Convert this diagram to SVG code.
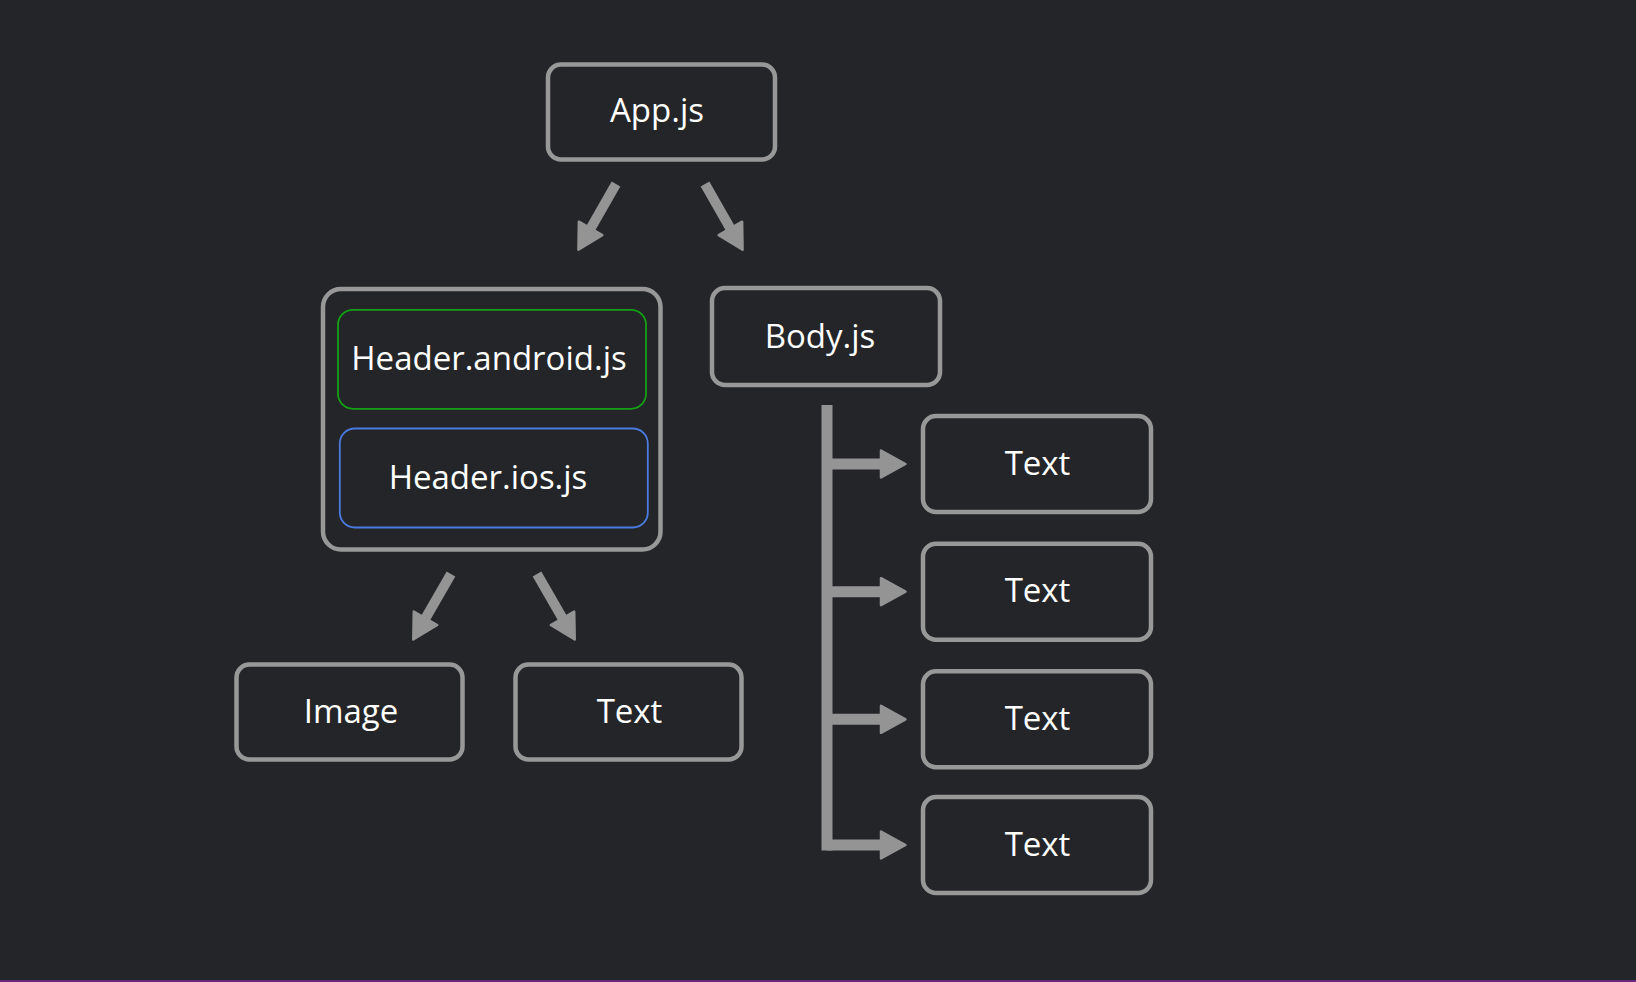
<svg xmlns="http://www.w3.org/2000/svg" width="1636" height="982" viewBox="0 0 1636 982">
  <style>
    .box { fill: #242528; stroke: #989898; stroke-width: 4.5; }
    .lbl { fill: #ffffff; font-family: "Open Sans", "Noto Sans", "Liberation Sans", sans-serif; font-size: 33px; text-anchor: middle; }
    .conn { stroke: #949494; stroke-width: 10; fill: none; stroke-linecap: butt; }
  </style>
  <defs>
    <marker id="ah" viewBox="0 0 26 30" refX="0" refY="15" markerWidth="26" markerHeight="30" markerUnits="userSpaceOnUse" orient="auto" overflow="visible">
      <path d="M0,1.5 L24.5,15 L0,28.5 Z" fill="#949494" stroke="#949494" stroke-width="2.5" stroke-linejoin="round"/>
    </marker>
  </defs>
  <rect x="0" y="0" width="1636" height="982" fill="#242528"/>
  <rect x="0" y="980" width="1636" height="2" fill="#652a80"/>

  <g id="connectors">
    <line class="conn" x1="616" y1="184" x2="590.6" y2="228.4" marker-end="url(#ah)"/>
    <line class="conn" x1="705" y1="184" x2="730.4" y2="228.4" marker-end="url(#ah)"/>
    <line class="conn" x1="451" y1="574" x2="425.5" y2="618.3" marker-end="url(#ah)"/>
    <line class="conn" x1="537" y1="574" x2="562.5" y2="618.3" marker-end="url(#ah)"/>
    <line class="conn" x1="827" y1="405" x2="827" y2="850.5" style="stroke-width:11"/>
    <line class="conn" x1="827" y1="464" x2="881" y2="464" style="stroke-width:11" marker-end="url(#ah)"/>
    <line class="conn" x1="827" y1="591.7" x2="881" y2="591.7" style="stroke-width:11" marker-end="url(#ah)"/>
    <line class="conn" x1="827" y1="719.3" x2="881" y2="719.3" style="stroke-width:11" marker-end="url(#ah)"/>
    <line class="conn" x1="827" y1="845" x2="881" y2="845" style="stroke-width:11" marker-end="url(#ah)"/>
  </g>

  <g id="app">
    <rect class="box" x="548" y="64.5" width="227" height="95" rx="13"/>
    <text class="lbl" x="657" y="122">App.js</text>
  </g>

  <g id="header">
    <rect class="box" x="323" y="289" width="337.5" height="260.5" rx="18"/>
    <g id="header-android">
      <rect x="338" y="309.8" width="308" height="99" rx="15" fill="none" stroke="#14a014" stroke-width="1.8"/>
      <text class="lbl" x="489" y="369.5">Header.android.js</text>
    </g>
    <g id="header-ios">
      <rect x="339.8" y="428.5" width="308" height="99" rx="15" fill="none" stroke="#4a7be0" stroke-width="1.8"/>
      <text class="lbl" x="488" y="488.5">Header.ios.js</text>
    </g>
  </g>

  <g id="body">
    <rect class="box" x="712" y="288" width="228" height="97" rx="13"/>
    <text class="lbl" x="820" y="347.5">Body.js</text>
  </g>

  <g id="image">
    <rect class="box" x="236.5" y="664.5" width="226" height="95" rx="13"/>
    <text class="lbl" x="351" y="722.5">Image</text>
  </g>

  <g id="header-text">
    <rect class="box" x="515.5" y="664.5" width="226" height="95" rx="13"/>
    <text class="lbl" x="629.5" y="722.5">Text</text>
  </g>

  <g id="body-text-1">
    <rect class="box" x="923" y="416" width="228" height="96" rx="13"/>
    <text class="lbl" x="1037.5" y="474.5">Text</text>
  </g>
  <g id="body-text-2">
    <rect class="box" x="923" y="543.7" width="228" height="96" rx="13"/>
    <text class="lbl" x="1037.5" y="602">Text</text>
  </g>
  <g id="body-text-3">
    <rect class="box" x="923" y="671.3" width="228" height="96" rx="13"/>
    <text class="lbl" x="1037.5" y="729.5">Text</text>
  </g>
  <g id="body-text-4">
    <rect class="box" x="923" y="797" width="228" height="96" rx="13"/>
    <text class="lbl" x="1037.5" y="856">Text</text>
  </g>
</svg>
